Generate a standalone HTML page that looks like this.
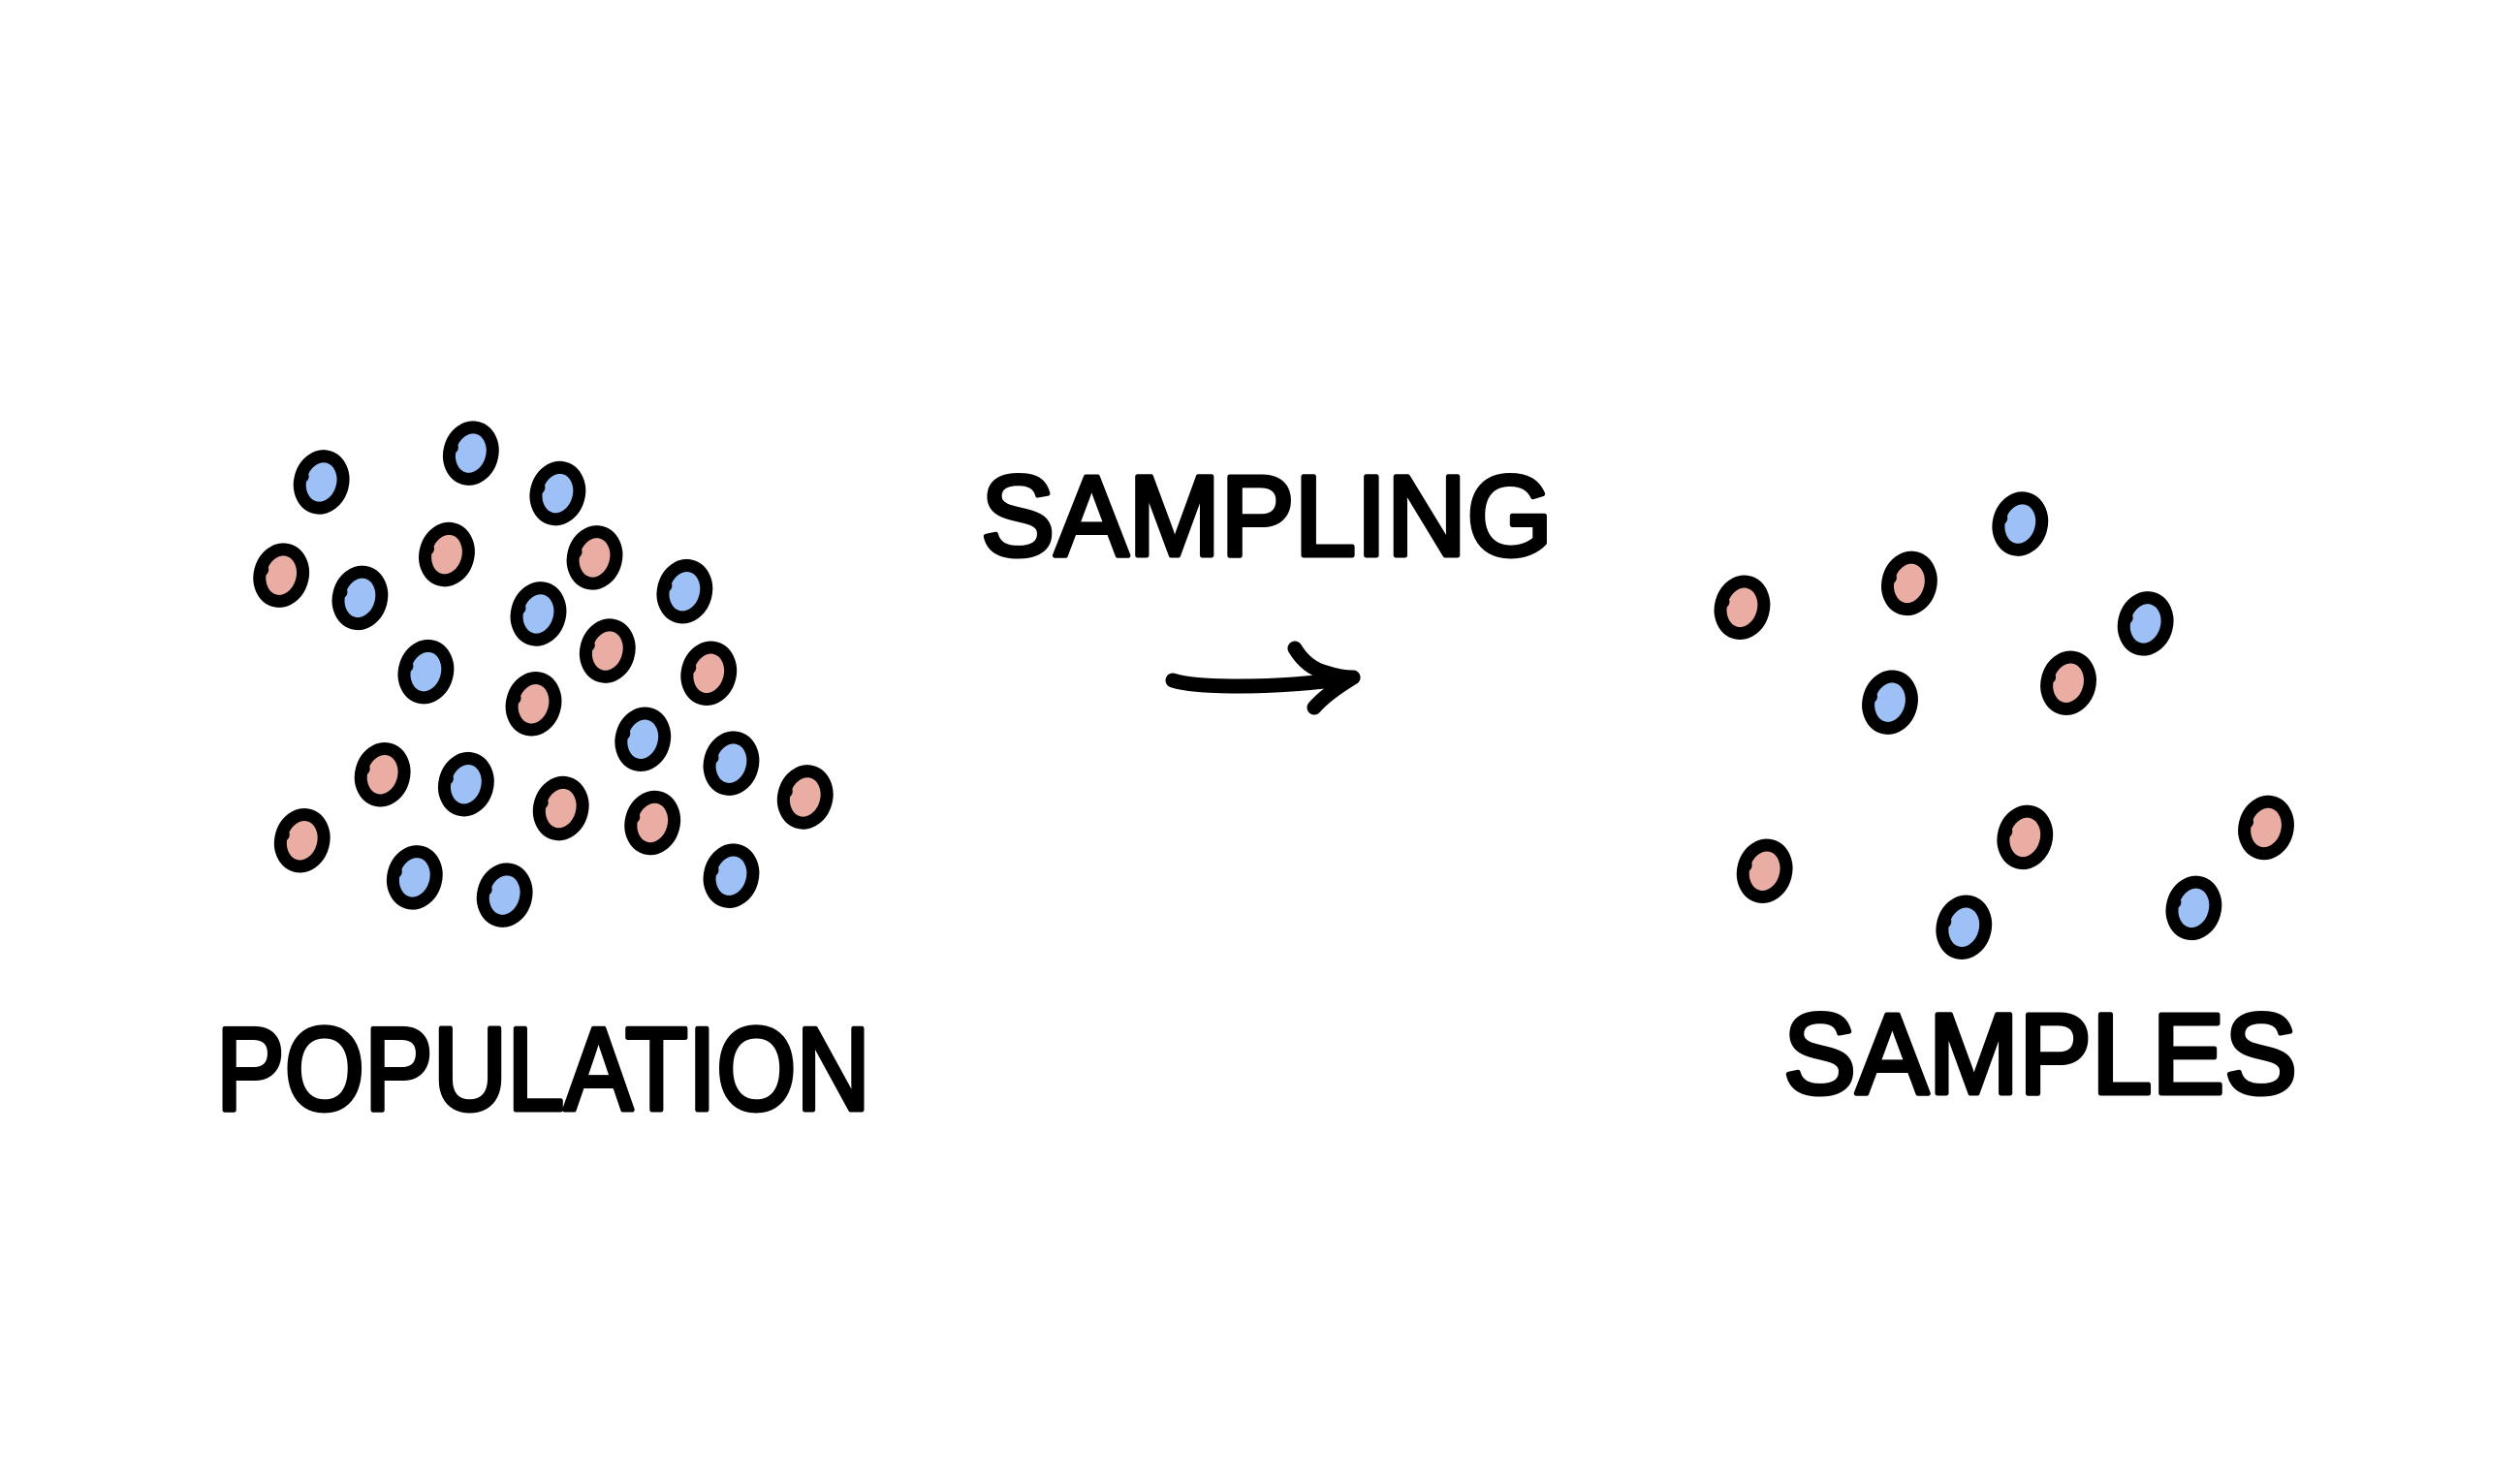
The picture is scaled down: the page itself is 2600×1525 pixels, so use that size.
<!DOCTYPE html>
<html><head><meta charset="utf-8"><style>
html,body{margin:0;padding:0;background:#fff;}
svg{display:block;}
text{font-family:"Liberation Sans",sans-serif;fill:#000;stroke:#000;stroke-width:5;stroke-linejoin:round;}
</style></head>
<body>
<svg id="c" width="2600" height="1525" viewBox="0 0 2600 1525">
<text x="223" y="1145" font-size="122" textLength="675" lengthAdjust="spacingAndGlyphs">POPULATION</text>
<text x="1012" y="573" font-size="118" textLength="590" lengthAdjust="spacingAndGlyphs">SAMPLING</text>
<text x="1840" y="1128" font-size="118" textLength="530" lengthAdjust="spacingAndGlyphs">SAMPLES</text>
<g fill="none" stroke="#000" stroke-width="15" stroke-linecap="round" stroke-linejoin="round" transform="translate(-12,-6)">
<path d="M1222 708 Q1240 714 1290 714 Q1350 714 1408 705"/>
<path d="M1348 675 Q1360 695 1380 700 Q1395 705 1408 705 Q1380 722 1368 736"/>
</g>
<g id="dots"></g>
</svg>
<script>
const popX=[200,293,347,175,278,370,224,426,335,378,265,441,332,400,238,290,455,349,406,501,188,258,314,455];
const popY=[300,282,307,358,345,347,372,368,382,405,418,419,438,460,482,488,475,503,512,496,523,546,557,545];
const popType=['b','b','b','p','p','p','b','b','b','p','b','p','p','b','p','b','b','p','p','p','p','b','b','b'];
const smpX=[1084,1188,1257,1335,1176,1287,1098,1260,1410,1222,1365];
const smpY=[378,363,326,388,437,425,542,521,515,577,565];
const smpType=['p','p','b','b','b','p','p','p','p','b','b'];
const K=2600/1568;
const sx=v=>v*K, sy=v=>v*K;
const g=document.getElementById('dots');
const NS='http://www.w3.org/2000/svg';
function dot(x,y,t,name){
  const e=document.createElementNS(NS,'ellipse');
  e.setAttribute('cx',sx(x));e.setAttribute('cy',sy(y));
  e.setAttribute('rx',22);e.setAttribute('ry',27);
  e.setAttribute('transform','rotate(15 '+sx(x)+' '+sy(y)+')');
  e.setAttribute('fill',t==='b'?'#9dc1f7':'#eaada3');
  e.setAttribute('stroke','#000');e.setAttribute('stroke-width',13);
  
  
  g.appendChild(e);
  const n=document.createElementNS(NS,'circle');
  n.setAttribute('cx',sx(x)-20);n.setAttribute('cy',sy(y)-6);n.setAttribute('r',7);
  n.setAttribute('fill','#000');
  
  
  g.appendChild(n);
}
popX.forEach((x,i)=>dot(x,popY[i],popType[i],'population-dot'));
smpX.forEach((x,i)=>dot(x,smpY[i],smpType[i],'sample-dot'));
</script>
</body></html>
